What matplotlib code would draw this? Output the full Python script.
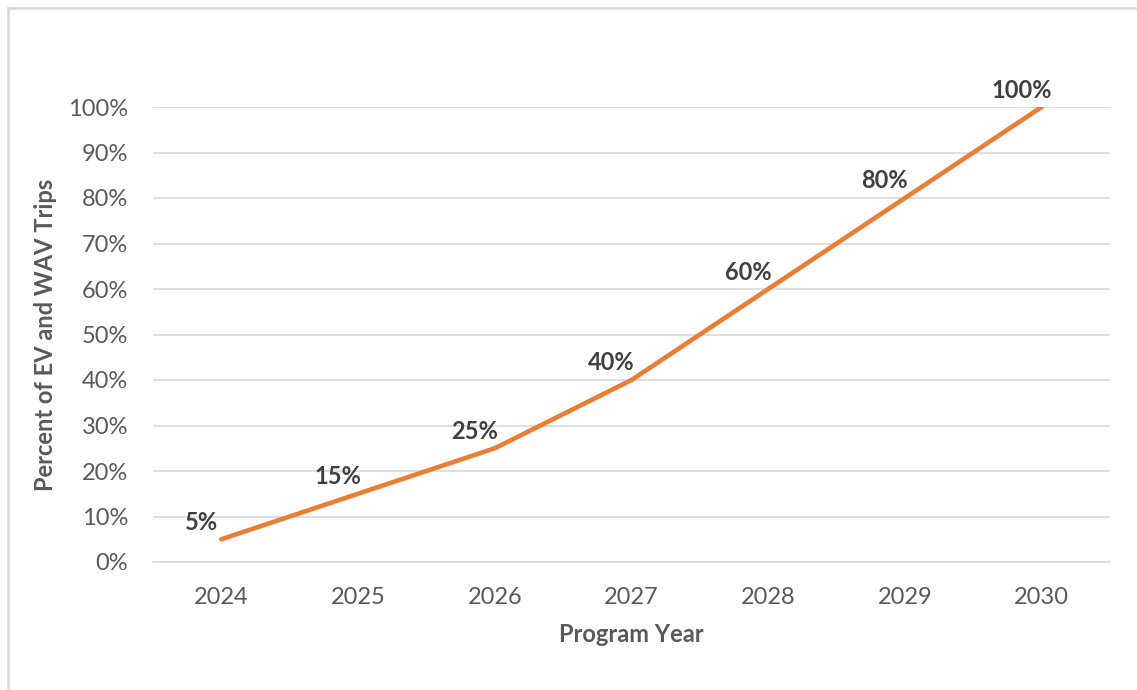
import matplotlib
matplotlib.use("Agg")
import matplotlib.pyplot as plt
from matplotlib.lines import Line2D

years = ["2024", "2025", "2026", "2027", "2028", "2029", "2030"]
percent = [5, 15, 25, 40, 60, 80, 100]
labels = ["5%", "15%", "25%", "40%", "60%", "80%", "100%"]
yticks = [0, 10, 20, 30, 40, 50, 60, 70, 80, 90, 100]

plt.rcParams['font.family'] = ['Lato', 'DejaVu Sans']

W, H = 1137, 690
fig = plt.figure(figsize=(W / 100, H / 100), dpi=100)
ax = fig.add_axes([153 / W, 1 - 562 / H, (1110 - 153) / W, (562 - 107) / H])

x = list(range(len(years)))
ax.plot(x, percent, color="#ED7D31", linewidth=3.3, solid_capstyle="round", zorder=3)

for xi, yi, lab in zip(x, percent, labels):
    ax.annotate(lab, (xi, yi), xytext=(-20, 17), textcoords="offset pixels",
                ha="center", va="center", fontsize=17, fontweight="bold",
                color="#404040", zorder=4)

ax.set_xlim(-0.5, len(years) - 0.5)
ax.set_ylim(0, 100)
ax.set_yticks(yticks)
ax.set_yticklabels([f"{v}%" for v in yticks])
ax.set_xticks(x)
ax.set_xticklabels(years)
ax.grid(axis="y", color="#D9D9D9", linewidth=1.2)
ax.set_axisbelow(True)
for s in ["top", "right", "left"]:
    ax.spines[s].set_visible(False)
ax.spines["bottom"].set_color("#D9D9D9")
ax.spines["bottom"].set_linewidth(1.2)
ax.tick_params(length=0, labelsize=17, labelcolor="#595959")
ax.tick_params(axis="x", pad=18)
ax.tick_params(axis="y", pad=18)

ax.set_xlabel("Program Year", fontsize=17, fontweight="bold", color="#595959", labelpad=11)
ax.set_ylabel("Percent of EV and WAV Trips", fontsize=17, fontweight="bold", color="#595959", labelpad=8)

# figure border (top and left)
fig.add_artist(Line2D([8 / W, 8 / W], [0, 1 - 8 / H], transform=fig.transFigure, color="#D9D9D9", linewidth=1.8))
fig.add_artist(Line2D([8 / W, 1], [1 - 8 / H, 1 - 8 / H], transform=fig.transFigure, color="#D9D9D9", linewidth=1.8))

fig.savefig("out.png", dpi=100, facecolor="white")
